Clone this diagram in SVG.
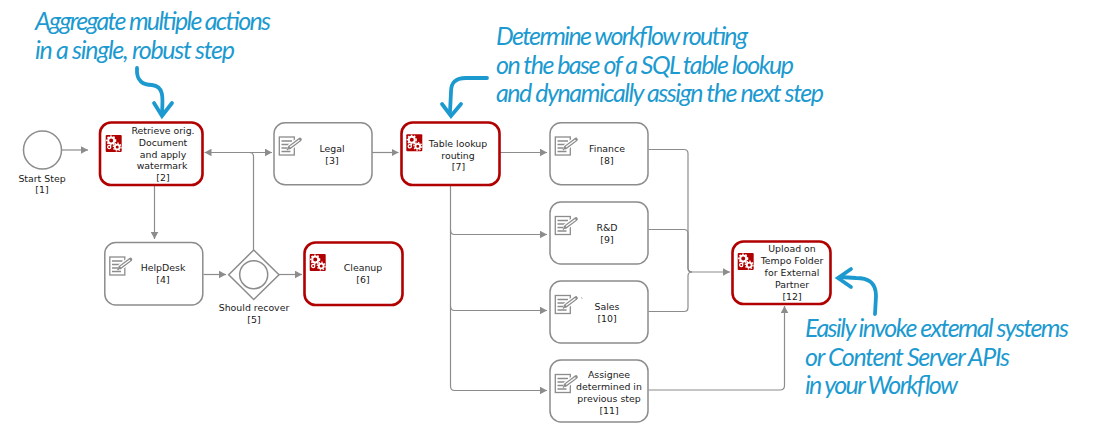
<svg xmlns="http://www.w3.org/2000/svg" xmlns:xlink="http://www.w3.org/1999/xlink" width="1107" height="423" viewBox="0 0 1107 423">
<style>
text{font-family:"DejaVu Sans",Verdana,sans-serif;font-size:9.400px;fill:#1a1a1a;text-anchor:middle}
.plain{fill:#fff;stroke:#8c8c8c;stroke-width:1.5}
.red{fill:#fff;stroke:#b00000;stroke-width:2.6}
.c{fill:none;stroke:#8c8c8c;stroke-width:1.2}
.a{marker-end:url(#ah)}
text.note{font-family:"Lato","Open Sans",sans-serif;font-style:italic;font-size:25px;fill:#1c9ad0;text-anchor:start}
.sq{fill:none;stroke:#1c9ad0;stroke-width:3.800;stroke-linecap:round;stroke-linejoin:miter}
</style>
<defs>
<marker id="ah" markerUnits="userSpaceOnUse" markerWidth="8" markerHeight="8" refX="7" refY="4" orient="auto"><path d="M0 0.2L7 4L0 7.800z" fill="#8c8c8c"/></marker>
<marker id="as" markerUnits="userSpaceOnUse" markerWidth="8" markerHeight="8" refX="7" refY="4" orient="auto-start-reverse"><path d="M0 0.2L7 4L0 7.800z" fill="#8c8c8c"/></marker>
<g id="gears">
<rect width="16" height="17" rx="1" fill="#b00000"/>
<circle cx="5.500" cy="5.500" r="3" fill="none" stroke="#fff" stroke-width="2"/>
<circle cx="5.500" cy="5.500" r="4.400" fill="none" stroke="#fff" stroke-width="1.400" stroke-dasharray="1.600 1.600"/>
<circle cx="11.500" cy="12" r="2.400" fill="none" stroke="#fff" stroke-width="1.800"/>
<circle cx="11.500" cy="12" r="3.900" fill="none" stroke="#fff" stroke-width="1.200" stroke-dasharray="1.500 1.500"/>
<circle cx="3.500" cy="12" r="1.600" fill="none" stroke="#fff" stroke-width="1.300"/>
</g>
<g id="doc">
<rect x="0.800" y="1" width="15" height="18" fill="#fff" stroke="#8c8c8c" stroke-width="1.300"/>
<path d="M3 5H13.500M3 8.500H12M3 12H9M3 15.500H12" fill="none" stroke="#8c8c8c" stroke-width="1.500"/>
<path d="M11 11.500L21.500 3.500" fill="none" stroke="#fff" stroke-width="6"/>
<path d="M11 11.500L21.500 3.500" fill="none" stroke="#8c8c8c" stroke-width="3.600" stroke-linecap="round"/>
<path d="M11.500 11L21 3.900" fill="none" stroke="#fff" stroke-width="1.200"/>
<path d="M8.500 14L11 11.500" fill="none" stroke="#8c8c8c" stroke-width="1.500"/>
</g>
</defs>
<g id="connectors">
<path class="c a" d="M61.500 150H88"/>
<path class="c" style="marker-start:url(#as);marker-end:url(#as)" d="M204.500 152.500H272"/>
<path class="c" d="M253.500 250V156.500Q253.500 152.500 249.500 152.500"/>
<path class="c a" d="M372 152.500H398.500"/>
<path class="c a" d="M154.500 185.500V239"/>
<path class="c a" d="M203.500 274.500H226"/>
<path class="c a" d="M279 274.500H302"/>
<path class="c a" d="M500 152.500H547"/>
<path class="c" d="M450.500 185.500V386"/>
<path class="c a" d="M450.500 230Q450.500 234.500 454.500 234.500H547"/>
<path class="c a" d="M450.500 306Q450.500 310.500 454.500 310.500H547"/>
<path class="c a" d="M450.500 386Q450.500 390.500 454.500 390.500H547"/>
<path class="c" d="M648.500 149.500H684Q688 149.500 688 153.500V268Q688 272 692 272"/>
<path class="c" d="M648.500 229.500H684Q688 229.500 688 233.500V268Q688 272 692 272"/>
<path class="c a" d="M648.500 311.500H684Q688 311.500 688 307.500V276Q688 272 692 272H730"/>
<path class="c a" d="M648.500 390H780Q784.500 390 784.500 385.500V306"/>
</g>
<g id="n1"><circle cx="42.500" cy="150" r="19" class="plain"/><text x="42" y="182">Start Step</text><text x="42" y="193">[1]</text></g>
<g id="n2"><rect x="100" y="122.500" width="102.500" height="62.500" rx="11" class="red"/><use xlink:href="#gears" x="105.700" y="135"/><text x="163" y="133.500">Retrieve orig.</text><text x="163" y="145.500">Document</text><text x="163" y="157.500">and apply</text><text x="162" y="169.300">watermark</text><text x="163" y="181">[2]</text></g>
<g id="n3"><rect x="274" y="122.700" width="98" height="62" rx="11" class="plain"/><use xlink:href="#doc" x="278.500" y="136"/><text x="332" y="152">Legal</text><text x="332" y="164">[3]</text></g>
<g id="n4"><rect x="104.800" y="242.500" width="98" height="62.500" rx="11" class="plain"/><use xlink:href="#doc" x="109" y="256"/><text x="163" y="271">HelpDesk</text><text x="163" y="283">[4]</text></g>
<g id="n5"><path d="M253.700 250L279 274.700L253.700 299.500L228.700 274.700z" class="plain"/><circle cx="253.700" cy="274.700" r="14" class="plain"/><text x="254" y="311">Should recover</text><text x="254" y="323">[5]</text></g>
<g id="n6"><rect x="304.500" y="242.500" width="98" height="62.500" rx="11" class="red"/><use xlink:href="#gears" x="309.700" y="254"/><text x="363" y="271">Cleanup</text><text x="363" y="283">[6]</text></g>
<g id="n7"><rect x="401.500" y="122.500" width="98" height="62.500" rx="11" class="red"/><use xlink:href="#gears" x="406.300" y="134.300"/><text x="458" y="147">Table lookup</text><text x="458" y="159">routing</text><text x="458.500" y="170">[7]</text></g>
<g id="n8"><rect x="550" y="122.700" width="98" height="62" rx="11" class="plain"/><use xlink:href="#doc" x="554.500" y="136"/><text x="607" y="152">Finance</text><text x="607" y="164">[8]</text></g>
<g id="n9"><rect x="550" y="202" width="98" height="62" rx="11" class="plain"/><use xlink:href="#doc" x="554.500" y="215.500"/><text x="607" y="231">R&amp;D</text><text x="607" y="243">[9]</text></g>
<g id="n10"><rect x="550" y="281" width="98" height="62" rx="11" class="plain"/><use xlink:href="#doc" x="554.500" y="294.500"/><path d="M581 297L582.500 299" stroke="#aaa" stroke-width="0.800" fill="none"/><text x="607" y="310">Sales</text><text x="607" y="322">[10]</text></g>
<g id="n11"><rect x="550" y="360" width="98" height="62" rx="11" class="plain"/><use xlink:href="#doc" x="554.500" y="373.500"/><text x="609" y="378">Assignee</text><text x="609" y="390">determined in</text><text x="609" y="402">previous step</text><text x="609" y="414">[11]</text></g>
<g id="n12"><rect x="732.500" y="241.500" width="98" height="62.500" rx="11" class="red"/><use xlink:href="#gears" x="737.700" y="253"/><text x="792" y="252">Upload on</text><text x="792" y="264">Tempo Folder</text><text x="792" y="276">for External</text><text x="792" y="287.700">Partner</text><text x="792" y="299.700">[12]</text></g>
<g id="notes">
<text class="note" x="35" y="30" textLength="236">Aggregate multiple actions</text>
<text class="note" x="35" y="59" textLength="200">in a single, robust step</text>
<text class="note" x="496" y="45" textLength="252">Determine workflow routing</text>
<text class="note" x="496" y="74" textLength="298">on the base of a SQL table lookup</text>
<text class="note" x="496" y="102" textLength="328">and dynamically assign the next step</text>
<text class="note" x="805" y="337" textLength="264">Easily invoke external systems</text>
<text class="note" x="805" y="366" textLength="205">or Content Server APIs</text>
<text class="note" x="805" y="394" textLength="153">in your Workflow</text>
<path class="sq" d="M137 68C136 82 144 85 152 85C164 86 163 98 162 113"/>
<path class="sq" d="M154 103L162 116L172 103"/>
<path class="sq" d="M487 78H466C454 78 451 84 451 92L450 112"/>
<path class="sq" d="M442 104L451 116L461 104"/>
<path class="sq" d="M875 314L876 296C876 282 868 278 856 278L840 277"/>
<path class="sq" d="M851 269L838 278L851 287"/>
</g>
</svg>
